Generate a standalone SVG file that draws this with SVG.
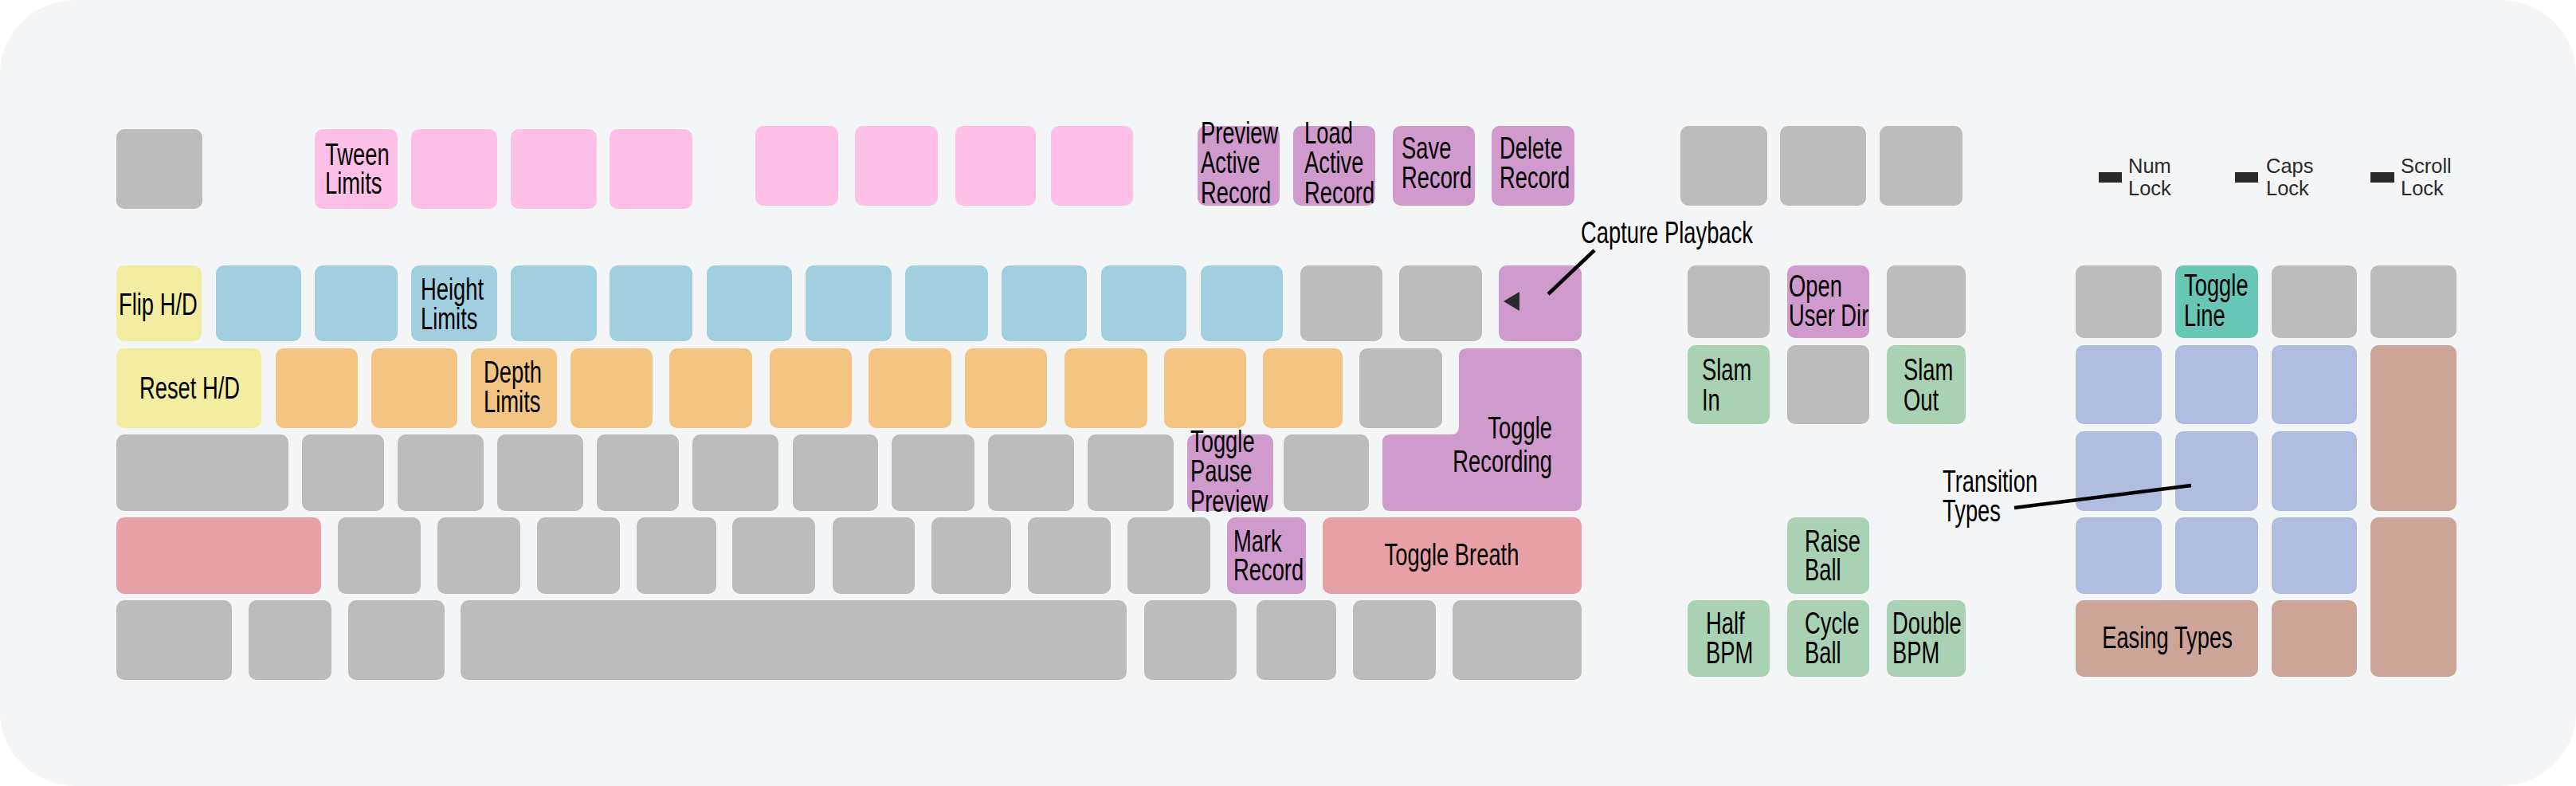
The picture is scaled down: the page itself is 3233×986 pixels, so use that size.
<svg xmlns="http://www.w3.org/2000/svg" width="3233" height="986" viewBox="0 0 3233 986">
<style>
.k rect, .k path { stroke: none; }
.gray { fill: #bcbcbc; }
.pink { fill: #fec0e7; }
.purple { fill: #d09acd; }
.blue { fill: #a2cfe0; }
.yellow { fill: #f2eda0; }
.orange { fill: #f3c482; }
.red { fill: #e8a0a7; }
.green { fill: #a8d2b3; }
.teal { fill: #68c6b4; }
.peri { fill: #b0bde0; }
.brown { fill: #cca598; }
.lbl { font-family: "Liberation Sans", Arial, sans-serif; font-size: 38px; fill: #000; }
.ind { font-family: "Liberation Sans", Arial, sans-serif; font-size: 25.5px; fill: #2a2a2a; }
.lead { stroke: #000; stroke-width: 4.5; fill: none; }
</style>
<rect x="0" y="0" width="3233" height="986" fill="#ffffff"/>
<rect id="board" x="0" y="0" width="3233" height="986" rx="96" ry="92" fill="#f4f5f7"/>

<!-- Function row -->
<g id="key-esc" class="k"><rect class="gray" x="146" y="162" width="108" height="100" rx="10"/></g>
<g id="key-f1" class="k"><rect class="pink" x="395" y="162" width="104" height="100" rx="10"/>
<text class="lbl" transform="translate(408,207) scale(0.72,1)"><tspan x="0">Tween</tspan><tspan x="0" dy="36">Limits</tspan></text></g>
<g id="key-f2" class="k"><rect class="pink" x="516" y="162" width="108" height="100" rx="10"/></g>
<g id="key-f3" class="k"><rect class="pink" x="641" y="162" width="108" height="100" rx="10"/></g>
<g id="key-f4" class="k"><rect class="pink" x="765" y="162" width="104" height="100" rx="10"/></g>
<g id="key-f5" class="k"><rect class="pink" x="948" y="158" width="104" height="100" rx="10"/></g>
<g id="key-f6" class="k"><rect class="pink" x="1073" y="158" width="104" height="100" rx="10"/></g>
<g id="key-f7" class="k"><rect class="pink" x="1199" y="158" width="101" height="100" rx="10"/></g>
<g id="key-f8" class="k"><rect class="pink" x="1319" y="158" width="103" height="100" rx="10"/></g>
<g id="key-f9" class="k"><rect class="purple" x="1503" y="158" width="103" height="100" rx="10"/>
<text class="lbl" transform="translate(1507,180) scale(0.72,1)"><tspan x="0">Preview</tspan><tspan x="0" dy="37.5">Active</tspan><tspan x="0" dy="37.5">Record</tspan></text></g>
<g id="key-f10" class="k"><rect class="purple" x="1623" y="158" width="103" height="100" rx="10"/>
<text class="lbl" transform="translate(1637,180) scale(0.72,1)"><tspan x="0">Load</tspan><tspan x="0" dy="37.5">Active</tspan><tspan x="0" dy="37.5">Record</tspan></text></g>
<g id="key-f11" class="k"><rect class="purple" x="1748" y="158" width="103" height="100" rx="10"/>
<text class="lbl" transform="translate(1759,199) scale(0.72,1)"><tspan x="0">Save</tspan><tspan x="0" dy="37">Record</tspan></text></g>
<g id="key-f12" class="k"><rect class="purple" x="1872" y="158" width="104" height="100" rx="10"/>
<text class="lbl" transform="translate(1882,199) scale(0.72,1)"><tspan x="0">Delete</tspan><tspan x="0" dy="37">Record</tspan></text></g>
<g id="key-prtsc" class="k"><rect class="gray" x="2109" y="158" width="109" height="100" rx="10"/></g>
<g id="key-scrlk" class="k"><rect class="gray" x="2234" y="158" width="108" height="100" rx="10"/></g>
<g id="key-pause" class="k"><rect class="gray" x="2359" y="158" width="104" height="100" rx="10"/></g>

<!-- Lock indicators -->
<g id="ind-num"><rect x="2634" y="216" width="29" height="13" fill="#2a2a2a"/>
<text class="ind" x="2671" y="217"><tspan x="2671">Num</tspan><tspan x="2671" dy="28">Lock</tspan></text></g>
<g id="ind-caps"><rect x="2805" y="216" width="29" height="13" fill="#2a2a2a"/>
<text class="ind" x="2844" y="217"><tspan x="2844">Caps</tspan><tspan x="2844" dy="28">Lock</tspan></text></g>
<g id="ind-scroll"><rect x="2975" y="216" width="30" height="13" fill="#2a2a2a"/>
<text class="ind" x="3013" y="217"><tspan x="3013">Scroll</tspan><tspan x="3013" dy="28">Lock</tspan></text></g>

<!-- Number row -->
<g id="key-grave" class="k"><rect class="yellow" x="146" y="333" width="107" height="95" rx="10"/>
<text class="lbl" transform="translate(149,395) scale(0.72,1)">Flip H/D</text></g>
<g id="key-1" class="k"><rect class="blue" x="271" y="333" width="107" height="95" rx="10"/></g>
<g id="key-2" class="k"><rect class="blue" x="395" y="333" width="104" height="95" rx="10"/></g>
<g id="key-3" class="k"><rect class="blue" x="516" y="333" width="108" height="95" rx="10"/>
<text class="lbl" transform="translate(528,376) scale(0.72,1)"><tspan x="0">Height</tspan><tspan x="0" dy="37">Limits</tspan></text></g>
<g id="key-4" class="k"><rect class="blue" x="641" y="333" width="108" height="95" rx="10"/></g>
<g id="key-5" class="k"><rect class="blue" x="765" y="333" width="104" height="95" rx="10"/></g>
<g id="key-6" class="k"><rect class="blue" x="887" y="333" width="107" height="95" rx="10"/></g>
<g id="key-7" class="k"><rect class="blue" x="1011" y="333" width="108" height="95" rx="10"/></g>
<g id="key-8" class="k"><rect class="blue" x="1136" y="333" width="104" height="95" rx="10"/></g>
<g id="key-9" class="k"><rect class="blue" x="1257" y="333" width="107" height="95" rx="10"/></g>
<g id="key-0" class="k"><rect class="blue" x="1382" y="333" width="107" height="95" rx="10"/></g>
<g id="key-minus" class="k"><rect class="blue" x="1507" y="333" width="103" height="95" rx="10"/></g>
<g id="key-equal" class="k"><rect class="gray" x="1632" y="333" width="103" height="95" rx="10"/></g>
<g id="key-yen" class="k"><rect class="gray" x="1756" y="333" width="104" height="95" rx="10"/></g>
<g id="key-backspace" class="k"><rect class="purple" x="1881" y="333" width="104" height="95" rx="10"/>
<polygon points="1887,378 1907,366 1907,390" fill="#2a2a2a"/></g>

<!-- QWERTY row -->
<g id="key-tab" class="k"><rect class="yellow" x="146" y="437" width="182" height="100" rx="10"/>
<text class="lbl" text-anchor="middle" transform="translate(238,500) scale(0.72,1)">Reset H/D</text></g>
<g id="key-q" class="k"><rect class="orange" x="346" y="437" width="103" height="100" rx="10"/></g>
<g id="key-w" class="k"><rect class="orange" x="466" y="437" width="108" height="100" rx="10"/></g>
<g id="key-e" class="k"><rect class="orange" x="591" y="437" width="108" height="100" rx="10"/>
<text class="lbl" transform="translate(607,480) scale(0.72,1)"><tspan x="0">Depth</tspan><tspan x="0" dy="37">Limits</tspan></text></g>
<g id="key-r" class="k"><rect class="orange" x="716" y="437" width="103" height="100" rx="10"/></g>
<g id="key-t" class="k"><rect class="orange" x="840" y="437" width="104" height="100" rx="10"/></g>
<g id="key-y" class="k"><rect class="orange" x="966" y="437" width="103" height="100" rx="10"/></g>
<g id="key-u" class="k"><rect class="orange" x="1090" y="437" width="104" height="100" rx="10"/></g>
<g id="key-i" class="k"><rect class="orange" x="1211" y="437" width="103" height="100" rx="10"/></g>
<g id="key-o" class="k"><rect class="orange" x="1336" y="437" width="104" height="100" rx="10"/></g>
<g id="key-p" class="k"><rect class="orange" x="1461" y="437" width="103" height="100" rx="10"/></g>
<g id="key-lbracket" class="k"><rect class="orange" x="1585" y="437" width="100" height="100" rx="10"/></g>
<g id="key-rbracket" class="k"><rect class="gray" x="1706" y="437" width="104" height="100" rx="10"/></g>
<g id="key-enter" class="k"><path class="purple" d="M1841 437 H1975 Q1985 437 1985 447 V631 Q1985 641 1975 641 H1745 Q1735 641 1735 631 V555 Q1735 545 1745 545 H1821 Q1831 545 1831 535 V447 Q1831 437 1841 437 Z"/>
<text class="lbl" text-anchor="end" transform="translate(1948,550) scale(0.72,1)"><tspan x="0">Toggle</tspan><tspan x="0" dy="42">Recording</tspan></text></g>

<!-- Home row -->
<g id="key-caps" class="k"><rect class="gray" x="146" y="545" width="216" height="96" rx="10"/></g>
<g id="key-a" class="k"><rect class="gray" x="379" y="545" width="103" height="96" rx="10"/></g>
<g id="key-s" class="k"><rect class="gray" x="499" y="545" width="108" height="96" rx="10"/></g>
<g id="key-d" class="k"><rect class="gray" x="624" y="545" width="108" height="96" rx="10"/></g>
<g id="key-f" class="k"><rect class="gray" x="749" y="545" width="103" height="96" rx="10"/></g>
<g id="key-g" class="k"><rect class="gray" x="869" y="545" width="108" height="96" rx="10"/></g>
<g id="key-h" class="k"><rect class="gray" x="995" y="545" width="107" height="96" rx="10"/></g>
<g id="key-j" class="k"><rect class="gray" x="1119" y="545" width="104" height="96" rx="10"/></g>
<g id="key-k" class="k"><rect class="gray" x="1240" y="545" width="108" height="96" rx="10"/></g>
<g id="key-l" class="k"><rect class="gray" x="1365" y="545" width="108" height="96" rx="10"/></g>
<g id="key-semicolon" class="k"><rect class="purple" x="1490" y="545" width="108" height="96" rx="10"/>
<text class="lbl" transform="translate(1494,567) scale(0.72,1)"><tspan x="0">Toggle</tspan><tspan x="0" dy="37.5">Pause</tspan><tspan x="0" dy="37.5">Preview</tspan></text></g>
<g id="key-quote" class="k"><rect class="gray" x="1611" y="545" width="107" height="96" rx="10"/></g>

<!-- Shift row -->
<g id="key-lshift" class="k"><rect class="red" x="146" y="649" width="257" height="96" rx="10"/></g>
<g id="key-z" class="k"><rect class="gray" x="424" y="649" width="104" height="96" rx="10"/></g>
<g id="key-x" class="k"><rect class="gray" x="549" y="649" width="104" height="96" rx="10"/></g>
<g id="key-c" class="k"><rect class="gray" x="674" y="649" width="104" height="96" rx="10"/></g>
<g id="key-v" class="k"><rect class="gray" x="799" y="649" width="100" height="96" rx="10"/></g>
<g id="key-b" class="k"><rect class="gray" x="919" y="649" width="104" height="96" rx="10"/></g>
<g id="key-n" class="k"><rect class="gray" x="1045" y="649" width="103" height="96" rx="10"/></g>
<g id="key-m" class="k"><rect class="gray" x="1169" y="649" width="100" height="96" rx="10"/></g>
<g id="key-comma" class="k"><rect class="gray" x="1290" y="649" width="104" height="96" rx="10"/></g>
<g id="key-period" class="k"><rect class="gray" x="1415" y="649" width="104" height="96" rx="10"/></g>
<g id="key-slash" class="k"><rect class="purple" x="1540" y="649" width="99" height="96" rx="10"/>
<text class="lbl" transform="translate(1548,692) scale(0.72,1)"><tspan x="0">Mark</tspan><tspan x="0" dy="36">Record</tspan></text></g>
<g id="key-rshift" class="k"><rect class="red" x="1660" y="649" width="325" height="96" rx="10"/>
<text class="lbl" text-anchor="middle" transform="translate(1822,709) scale(0.72,1)">Toggle Breath</text></g>

<!-- Bottom row -->
<g id="key-lctrl" class="k"><rect class="gray" x="146" y="753" width="145" height="100" rx="10"/></g>
<g id="key-lwin" class="k"><rect class="gray" x="312" y="753" width="104" height="100" rx="10"/></g>
<g id="key-lalt" class="k"><rect class="gray" x="437" y="753" width="121" height="100" rx="10"/></g>
<g id="key-space" class="k"><rect class="gray" x="578" y="753" width="836" height="100" rx="10"/></g>
<g id="key-ralt" class="k"><rect class="gray" x="1436" y="753" width="116" height="100" rx="10"/></g>
<g id="key-rwin" class="k"><rect class="gray" x="1577" y="753" width="100" height="100" rx="10"/></g>
<g id="key-menu" class="k"><rect class="gray" x="1698" y="753" width="104" height="100" rx="10"/></g>
<g id="key-rctrl" class="k"><rect class="gray" x="1823" y="753" width="162" height="100" rx="10"/></g>

<!-- Navigation cluster -->
<g id="key-insert" class="k"><rect class="gray" x="2118" y="333" width="103" height="91" rx="10"/></g>
<g id="key-home" class="k"><rect class="purple" x="2243" y="333" width="103" height="91" rx="10"/>
<text class="lbl" transform="translate(2245,372) scale(0.72,1)"><tspan x="0">Open</tspan><tspan x="0" dy="37">User Dir</tspan></text></g>
<g id="key-pgup" class="k"><rect class="gray" x="2368" y="333" width="99" height="91" rx="10"/></g>
<g id="key-delete" class="k"><rect class="green" x="2118" y="433" width="103" height="99" rx="10"/>
<text class="lbl" transform="translate(2136,477) scale(0.72,1)"><tspan x="0">Slam</tspan><tspan x="0" dy="38">In</tspan></text></g>
<g id="key-end" class="k"><rect class="gray" x="2243" y="433" width="103" height="99" rx="10"/></g>
<g id="key-pgdn" class="k"><rect class="green" x="2368" y="433" width="99" height="99" rx="10"/>
<text class="lbl" transform="translate(2389,477) scale(0.72,1)"><tspan x="0">Slam</tspan><tspan x="0" dy="38">Out</tspan></text></g>
<g id="key-up" class="k"><rect class="green" x="2243" y="649" width="103" height="96" rx="10"/>
<text class="lbl" transform="translate(2265,692) scale(0.72,1)"><tspan x="0">Raise</tspan><tspan x="0" dy="36">Ball</tspan></text></g>
<g id="key-left" class="k"><rect class="green" x="2118" y="753" width="103" height="96" rx="10"/>
<text class="lbl" transform="translate(2141,795) scale(0.72,1)"><tspan x="0">Half</tspan><tspan x="0" dy="37">BPM</tspan></text></g>
<g id="key-down" class="k"><rect class="green" x="2243" y="753" width="103" height="96" rx="10"/>
<text class="lbl" transform="translate(2265,795) scale(0.72,1)"><tspan x="0">Cycle</tspan><tspan x="0" dy="37">Ball</tspan></text></g>
<g id="key-right" class="k"><rect class="green" x="2368" y="753" width="99" height="96" rx="10"/>
<text class="lbl" transform="translate(2375,795) scale(0.72,1)"><tspan x="0">Double</tspan><tspan x="0" dy="37">BPM</tspan></text></g>

<!-- Numpad -->
<g id="key-numlock" class="k"><rect class="gray" x="2605" y="333" width="108" height="91" rx="10"/></g>
<g id="key-numdiv" class="k"><rect class="teal" x="2730" y="333" width="104" height="91" rx="10"/>
<text class="lbl" transform="translate(2741,371) scale(0.72,1)"><tspan x="0">Toggle</tspan><tspan x="0" dy="38">Line</tspan></text></g>
<g id="key-nummul" class="k"><rect class="gray" x="2851" y="333" width="107" height="91" rx="10"/></g>
<g id="key-numsub" class="k"><rect class="gray" x="2975" y="333" width="108" height="91" rx="10"/></g>
<g id="key-num7" class="k"><rect class="peri" x="2605" y="433" width="108" height="99" rx="10"/></g>
<g id="key-num8" class="k"><rect class="peri" x="2730" y="433" width="104" height="99" rx="10"/></g>
<g id="key-num9" class="k"><rect class="peri" x="2851" y="433" width="107" height="99" rx="10"/></g>
<g id="key-numadd" class="k"><rect class="brown" x="2975" y="433" width="108" height="208" rx="10"/></g>
<g id="key-num4" class="k"><rect class="peri" x="2605" y="541" width="108" height="100" rx="10"/></g>
<g id="key-num5" class="k"><rect class="peri" x="2730" y="541" width="104" height="100" rx="10"/></g>
<g id="key-num6" class="k"><rect class="peri" x="2851" y="541" width="107" height="100" rx="10"/></g>
<g id="key-num1" class="k"><rect class="peri" x="2605" y="649" width="108" height="96" rx="10"/></g>
<g id="key-num2" class="k"><rect class="peri" x="2730" y="649" width="104" height="96" rx="10"/></g>
<g id="key-num3" class="k"><rect class="peri" x="2851" y="649" width="107" height="96" rx="10"/></g>
<g id="key-numenter" class="k"><rect class="brown" x="2975" y="649" width="108" height="200" rx="10"/></g>
<g id="key-num0" class="k"><rect class="brown" x="2605" y="753" width="229" height="96" rx="10"/>
<text class="lbl" text-anchor="middle" transform="translate(2720,813) scale(0.72,1)">Easing Types</text></g>
<g id="key-numdec" class="k"><rect class="brown" x="2851" y="753" width="107" height="96" rx="10"/></g>

<!-- Callout labels -->
<g id="callout-capture"><text class="lbl" transform="translate(1984,305) scale(0.72,1)">Capture Playback</text></g>
<g id="callout-transition"><text class="lbl" transform="translate(2438,617) scale(0.72,1)"><tspan x="0">Transition</tspan><tspan x="0" dy="37">Types</tspan></text></g>

<!-- Connectors -->
<g id="connectors">
<line class="lead" x1="2001" y1="314" x2="1943" y2="369"/>
<line class="lead" x1="2528" y1="637" x2="2750" y2="609"/>
</g>
</svg>
